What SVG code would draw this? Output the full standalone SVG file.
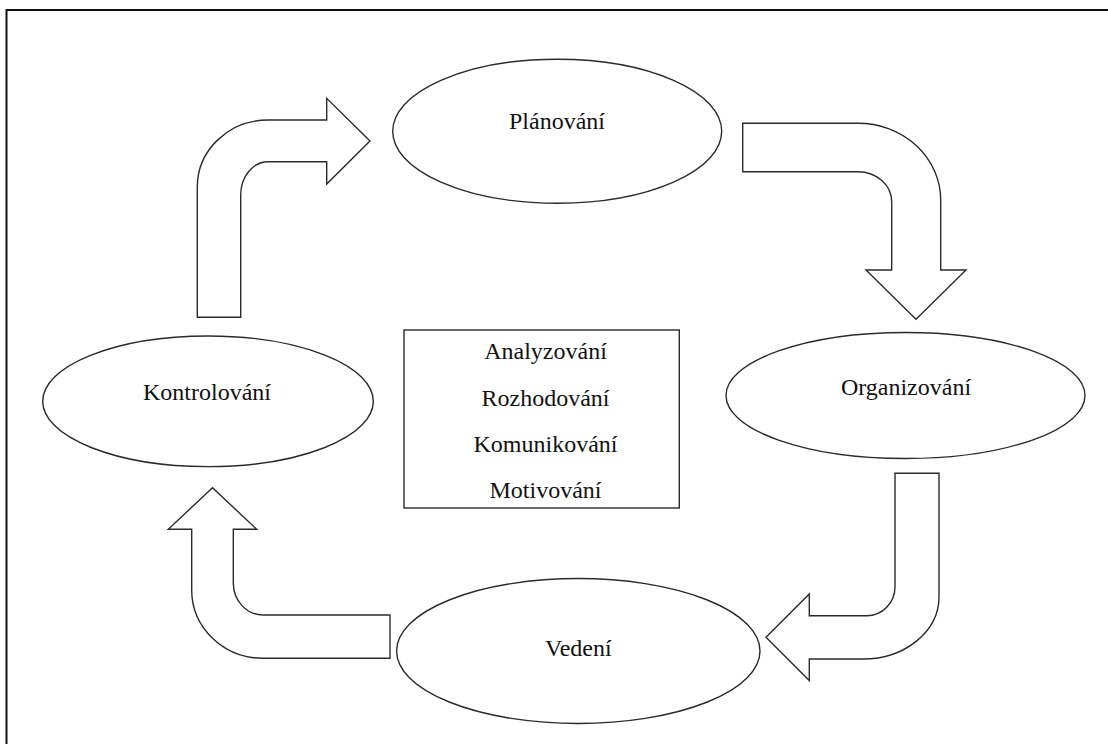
<svg xmlns="http://www.w3.org/2000/svg" width="1108" height="744" viewBox="0 0 1108 744">
<style>
.frame{fill:none;stroke:#111;stroke-width:2}
.shape{fill:#fff;stroke:#2a2a2a;stroke-width:1.4}
.arrow{fill:#fff;stroke:#2a2a2a;stroke-width:1.4;stroke-linejoin:miter}
.lbl{font-family:"Liberation Serif","Times New Roman",serif;font-size:24px;fill:#111;text-anchor:middle}
</style>
<rect width="1108" height="744" fill="#fff"/>
<rect class="frame" x="6.5" y="10" width="1120" height="760"/>
<g id="connectors">
<path class="arrow" d="M197.3,317.3 L197.3,187 A70.7,67 0 0 1 268,120 L326.7,120 L326.7,98.3 L370,141 L326.7,184 L326.7,161.7 L268,161.7 A27.3,33.3 0 0 0 240.7,195 L240.7,317.3 Z"/>
<path class="arrow" d="M742.7,123.3 L858,123.3 A82.7,76.7 0 0 1 940.7,200 L940.7,270 L966,270 L916,319.3 L866,270 L891.7,270 L891.7,201.7 A33.7,30 0 0 0 858,171.7 L742.7,171.7 Z"/>
<path class="arrow" d="M895,473.3 L939,473.3 L939,597 A76,62 0 0 1 863,659 L809.3,659 L809.3,680.6 L766,637.3 L809.3,594 L809.3,615.7 L866.7,615.7 A28.3,29 0 0 0 895,586.7 Z"/>
<path class="arrow" d="M390,615 L263,615 A29.7,32 0 0 1 233.3,583 L233.3,529.3 L256.7,529.3 L212.5,487.7 L168.3,529.3 L191.7,529.3 L191.7,590 A71.3,68.3 0 0 0 263,658.3 L390,658.3 Z"/>
</g>
<g id="planovani">
<ellipse class="shape" cx="557.2" cy="131.2" rx="164.5" ry="72"/>
<text class="lbl" x="557" y="128.5">Plánování</text>
</g>
<g id="organizovani">
<ellipse class="shape" cx="905.5" cy="395.5" rx="179.5" ry="63"/>
<text class="lbl" x="906" y="395">Organizování</text>
</g>
<g id="vedeni">
<ellipse class="shape" cx="578.3" cy="651" rx="181.7" ry="72.5"/>
<text class="lbl" x="578.3" y="656">Vedení</text>
</g>
<g id="kontrolovani">
<ellipse class="shape" cx="208" cy="401.3" rx="165.3" ry="65.3"/>
<text class="lbl" x="207" y="400">Kontrolování</text>
</g>
<g id="cinnosti">
<rect class="shape" x="404" y="330" width="275.3" height="178"/>
<text class="lbl" x="545.5" y="359.3">Analyzování</text>
<text class="lbl" x="545.5" y="406">Rozhodování</text>
<text class="lbl" x="545.5" y="451.7">Komunikování</text>
<text class="lbl" x="545.5" y="497.5">Motivování</text>
</g>
</svg>
